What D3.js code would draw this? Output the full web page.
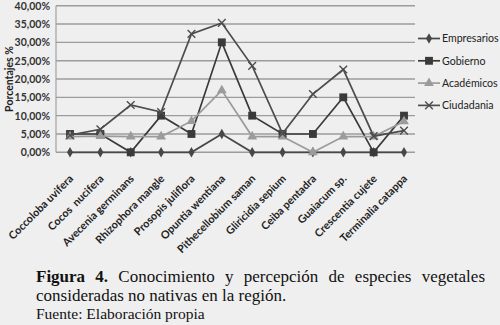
<!DOCTYPE html>
<html>
<head>
<meta charset="utf-8">
<script src="https://cdn.jsdelivr.net/npm/d3@7"></script>
<style>
  html, body { margin: 0; padding: 0; background: #efefef; }
  svg { display: block; }
</style>
</head>
<body>
<svg id="chart" width="500" height="325"></svg>
<script>
// especies (categorías del eje x)
const especies = ['Coccoloba uvifera', 'Cocos  nucifera', 'Avecenia germinans', 'Rhizophora mangle',
  'Prosopis juliflora', 'Opuntia wentiana', 'Pithecellobium saman', 'Gliricidia sepium',
  'Ceiba pentadra', 'Guaiacum sp.', 'Crescentia cujete', 'Terminalia catappa'];

const empresarios = [0, 0, 0, 0, 0, 5, 0, 0, 0, 0, 0, 0];
const gobierno    = [5, 5, 0, 10, 5, 30, 10, 5, 5, 15, 0, 10];
const academicos  = [4.3, 4.4, 4.3, 4.3, 8.5, 16.9, 4.3, 4.3, 0, 4.3, 4.3, 8.4];
const ciudadania  = [4.7, 6.3, 12.9, 11, 32.3, 35.3, 23.6, 5.1, 15.9, 22.6, 4.4, 5.9];

const yTicks = [0, 5, 10, 15, 20, 25, 30, 35, 40];

const series = [
  { name: 'Empresarios', values: empresarios, color: '#474747', marker: 'diamond' },
  { name: 'Gobierno', values: gobierno, color: '#3a3a3a', marker: 'square' },
  { name: 'Académicos', values: academicos, color: '#9b9b9b', marker: 'triangle' },
  { name: 'Ciudadania', values: ciudadania, color: '#4d4d4d', marker: 'cross' }
];

const svg = d3.select('#chart');
const plot = { left: 56, right: 415, top: 5.7, bottom: 152.3 };

const x = d3.scalePoint().domain(especies).range([70, 404]);
const y = d3.scaleLinear().domain([0, 40]).range([plot.bottom, plot.top]);

const fmt = d => d3.format('.2f')(d).replace('.', ',') + '%';

// líneas de cuadrícula
svg.append('g').selectAll('line')
  .data(yTicks)
  .join('line')
  .attr('x1', plot.left).attr('x2', plot.right)
  .attr('y1', d => y(d)).attr('y2', d => y(d))
  .attr('stroke', '#9c9c9c')
  .attr('stroke-width', 1.4);

// eje izquierdo
svg.append('line')
  .attr('x1', plot.left).attr('x2', plot.left)
  .attr('y1', plot.top).attr('y2', plot.bottom)
  .attr('stroke', '#a0a0a0').attr('stroke-width', 1.2);

const yAxis = svg.append('g')
  .attr('transform', `translate(${plot.left},0)`)
  .call(d3.axisLeft(y).tickValues(yTicks).tickFormat(fmt).tickSize(0).tickPadding(6));
yAxis.select('.domain').remove();
yAxis.selectAll('text')
  .attr('font-family', 'Lato, sans-serif')
  .attr('font-weight', 'bold')
  .attr('font-size', 10.5)
  .attr('fill', '#333');

svg.append('text')
  .attr('transform', 'translate(13,79) rotate(-90)')
  .attr('text-anchor', 'middle')
  .attr('font-family', 'Lato, sans-serif')
  .attr('font-weight', 'bold')
  .attr('font-size', 10.5)
  .attr('fill', '#222')
  .text('Porcentajes %');

// etiquetas de categoría
svg.append('g').selectAll('text')
  .data(especies)
  .join('text')
  .attr('transform', d => `translate(${x(d) + 4},${plot.bottom + 27}) rotate(-45)`)
  .attr('text-anchor', 'end')
  .attr('font-family', 'Lato, sans-serif')
  .attr('font-weight', 'bold')
  .attr('font-size', 10.8)
  .attr('fill', '#222')
  .attr('xml:space', 'preserve')
  .text(d => d);

const symbols = {
  diamond: d3.symbol().type(d3.symbolDiamond).size(32),
  square: d3.symbol().type(d3.symbolSquare).size(62),
  triangle: d3.symbol().type(d3.symbolTriangle).size(42),
  cross: d3.symbol().type(d3.symbolX).size(40)
};

function drawMarker(sel, s) {
  sel.attr('d', symbols[s.marker]())
    .attr('fill', s.marker === 'cross' ? 'none' : s.color)
    .attr('stroke', s.color)
    .attr('stroke-width', s.marker === 'cross' ? 1.4 : 0);
}

const line = d3.line()
  .x((d, i) => x(especies[i]))
  .y(d => y(d));

series.forEach(s => {
  const g = svg.append('g');
  g.append('path')
    .attr('d', line(s.values))
    .attr('fill', 'none')
    .attr('stroke', s.color)
    .attr('stroke-width', 1.7);
  g.selectAll('path.m')
    .data(s.values)
    .join('path')
    .attr('class', 'm')
    .attr('transform', (d, i) => `translate(${x(especies[i])},${y(d)})`)
    .call(drawMarker, s);
});

// leyenda
const legend = svg.append('g').attr('transform', 'translate(418,38.5)');
series.forEach((s, i) => {
  const row = legend.append('g').attr('transform', `translate(0,${i * 22.3})`);
  row.append('line').attr('x1', 0).attr('x2', 22)
    .attr('stroke', s.color).attr('stroke-width', 1.7);
  row.append('path').attr('transform', 'translate(11,0)').call(drawMarker, s);
  row.append('text')
    .attr('x', 24).attr('dy', '0.35em')
    .attr('font-family', 'Lato, sans-serif')
    .attr('font-size', 10.6)
    .attr('fill', '#222')
    .text(s.name);
});

// pie de figura
const caption = svg.append('g')
  .attr('font-family', 'Liberation Serif, Times New Roman, serif')
  .attr('fill', '#111');

const linea1 = [['Figura', true], ['4.', true], ['Conocimiento', false], ['y', false], ['percepción', false],
  ['de', false], ['especies', false], ['vegetales', false]];
const x0 = 36, x1 = 485;
const words = linea1.map(([w, b]) => caption.append('text')
  .attr('y', 281.5)
  .attr('font-size', 17)
  .attr('font-weight', b ? 'bold' : 'normal')
  .text(w));
const total = words.reduce((a, t) => a + t.node().getComputedTextLength(), 0);
const gap = (x1 - x0 - total) / (words.length - 1);
let cx = x0;
words.forEach(t => { t.attr('x', cx); cx += t.node().getComputedTextLength() + gap; });

caption.append('text')
  .attr('x', x0).attr('y', 301)
  .attr('font-size', 17)
  .text('consideradas no nativas en la región.');
caption.append('text')
  .attr('x', x0).attr('y', 318.5)
  .attr('font-size', 15.5)
  .text('Fuente: Elaboración propia');
</script>
</body>
</html>
